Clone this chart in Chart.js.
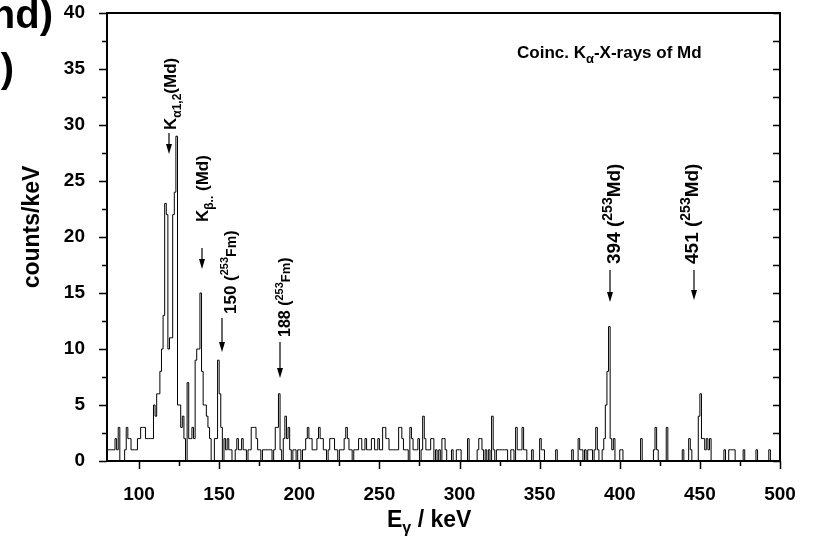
<!DOCTYPE html>
<html>
<head>
<meta charset="utf-8">
<script src="https://cdn.jsdelivr.net/npm/chart.js@4/dist/chart.umd.min.js"></script>
<style>
  html, body { margin: 0; padding: 0; background: #fff; }
  #wrap { width: 813px; height: 542px; position: relative; }
</style>
</head>
<body>
<div id="wrap"><canvas id="c" width="813" height="542"></canvas></div>
<script>
// ---------------- DATA ----------------
// Histogram of coincident gamma events, 1 keV bins, bin k covers [k, k+1) keV
const binStartKeV = 80;
const binWidthKeV = 1;
const counts080to129 = [
  2,1,1,1,1,1,2,1,3,0,
  0,0,1,3,2,2,1,1,1,1,
  2,2,3,3,3,2,2,2,2,2,
  5,4,6,6,8,10,13,23,22,10,
  11,11,22,24,29,5,5,3,4,2
];
const counts130to179 = [
  0,7,2,2,3,2,9,10,10,15,
  8,5,5,4,3,2,0,0,2,2,
  9,6,3,0,2,1,2,1,1,0,
  0,1,2,1,1,2,1,1,0,1,
  1,3,3,3,2,1,1,0,1,1
];
const counts180to279 = [
  1,1,1,1,0,1,3,3,6,1,
  0,2,4,2,3,1,0,1,1,0,
  1,1,0,1,1,2,3,2,2,1,
  1,1,2,3,2,2,1,1,0,1,
  2,2,2,1,1,0,1,1,1,2,
  3,2,1,1,0,1,1,1,2,2,
  1,1,2,1,1,1,2,2,1,1,
  2,1,1,3,3,2,2,1,1,1,
  1,1,1,3,3,2,1,1,1,0,
  3,2,1,1,1,2,0,1,4,2
];
const counts280to379 = [
  1,1,1,2,2,0,1,0,1,0,
  2,2,1,0,0,0,1,0,0,1,
  1,1,0,0,0,0,2,0,0,0,
  0,0,1,2,2,1,0,1,0,1,
  0,4,1,0,1,1,1,1,1,1,
  1,0,0,1,1,0,3,1,1,1,
  3,1,1,0,0,0,1,0,0,0,
  0,2,1,1,0,0,0,0,0,0,
  0,1,0,0,0,0,0,0,0,0,
  0,1,0,0,0,2,1,1,0,1
];
const counts380to499 = [
  0,1,1,1,0,1,3,1,0,0,
  1,2,5,8,12,2,1,2,0,0,
  0,1,1,0,0,0,0,0,0,0,
  0,0,0,0,2,0,0,0,0,0,
  0,0,1,3,1,0,0,0,0,0,
  3,0,0,0,0,0,0,0,0,0,
  1,0,0,0,2,1,0,0,0,0,
  4,6,2,2,1,2,1,2,0,0,
  0,0,0,0,0,0,1,0,0,1,
  1,1,1,0,0,0,0,0,1,0,
  0,0,0,0,0,0,1,0,0,0,
  0,0,0,0,1,0,0,0,0,0
];
const xTickLabels = [100, 150, 200, 250, 300, 350, 400, 450, 500];
const yTickLabels = [0, 5, 10, 15, 20, 25, 30, 35, 40];
const xRange = [80, 500];
const yRange = [0, 40];

// ---------------- BUILD ----------------
const counts = [].concat(counts080to129, counts130to179, counts180to279, counts280to379, counts380to499);
const points = counts.map((v, i) => ({ x: binStartKeV + i * binWidthKeV, y: v }));
points.push({ x: binStartKeV + counts.length * binWidthKeV, y: counts[counts.length - 1] });

const FONT = '"Liberation Sans", Arial, Helvetica, sans-serif';
Chart.defaults.font.family = FONT;
Chart.defaults.color = '#000';

function drawRich(ctx, x, y, runs, rotated, align) {
  ctx.save();
  ctx.translate(x, y);
  if (rotated) ctx.rotate(-Math.PI / 2);
  ctx.textBaseline = 'alphabetic';
  ctx.textAlign = 'left';
  let total = 0;
  for (const r of runs) { ctx.font = 'bold ' + r.size + 'px ' + FONT; total += ctx.measureText(r.t).width; }
  let cx = align === 'center' ? -total / 2 : 0;
  for (const r of runs) {
    ctx.font = 'bold ' + r.size + 'px ' + FONT;
    ctx.fillText(r.t, cx, r.dy || 0);
    cx += ctx.measureText(r.t).width;
  }
  ctx.restore();
}

function arrowDown(ctx, x, yTop, yTip) {
  ctx.save();
  ctx.strokeStyle = '#000';
  ctx.fillStyle = '#000';
  ctx.lineWidth = 1.2;
  ctx.beginPath();
  ctx.moveTo(x, yTop);
  ctx.lineTo(x, yTip - 6);
  ctx.stroke();
  ctx.beginPath();
  ctx.moveTo(x - 3, yTip - 10);
  ctx.lineTo(x + 3, yTip - 10);
  ctx.lineTo(x, yTip);
  ctx.closePath();
  ctx.fill();
  ctx.restore();
}

const decor = {
  id: 'decor',
  afterDraw(chart) {
    const ctx = chart.ctx;
    const a = chart.chartArea;
    const xs = chart.scales.x, ys = chart.scales.y;
    ctx.save();
    ctx.strokeStyle = '#000';
    ctx.fillStyle = '#000';
    // frame
    ctx.lineWidth = 2;
    ctx.strokeRect(a.left, a.top, a.right - a.left, a.bottom - a.top);
    // ticks
    ctx.lineWidth = 1.5;
    ctx.beginPath();
    for (let v = yRange[0]; v <= yRange[1] + 1e-9; v += 2.5) {
      const y = Math.round(ys.getPixelForValue(v)) + 0.5;
      const major = Math.abs(v % 5) < 1e-9;
      ctx.moveTo(a.left, y); ctx.lineTo(a.left - (major ? 8 : 5), y);
      ctx.moveTo(a.right, y); ctx.lineTo(a.right - 7, y);
    }
    for (let v = 100; v <= xRange[1] + 1e-9; v += 25) {
      const x = Math.round(xs.getPixelForValue(v)) + 0.5;
      const major = v % 50 === 0;
      ctx.moveTo(x, a.bottom); ctx.lineTo(x, a.bottom + (major ? 8 : 5));
    }
    ctx.stroke();

    // axis titles
    drawRich(ctx, 31 + 8, 227, [{ t: 'counts/keV', size: 23 }], true, 'center');
    drawRich(ctx, 387, 527, [
      { t: 'E', size: 23 }, { t: '\u03b3', size: 16, dy: 6 }, { t: ' / keV', size: 23 }
    ], false, 'left');

    // note
    drawRich(ctx, 517, 58, [
      { t: 'Coinc. K', size: 17 }, { t: '\u03b1', size: 13, dy: 5 }, { t: '-X-rays of Md', size: 17 }
    ], false, 'left');

    // peak labels (rotated) and arrows
    drawRich(ctx, 176, 130, [
      { t: 'K', size: 17 }, { t: '\u03b11,2', size: 12, dy: 5 }, { t: '(Md)', size: 17 }
    ], true);
    arrowDown(ctx, 169, 133, 154);

    drawRich(ctx, 208, 222, [
      { t: 'K', size: 17 }, { t: '\u03b2..', size: 12, dy: 5 }, { t: ' (Md)', size: 17 }
    ], true);
    arrowDown(ctx, 202, 248, 269);

    drawRich(ctx, 236, 314, [
      { t: '150 (', size: 17 }, { t: '253', size: 11, dy: -8 }, { t: 'Fm', size: 14 }, { t: ')', size: 17 }
    ], true);
    arrowDown(ctx, 222, 318, 352);

    drawRich(ctx, 290, 337, [
      { t: '188 (', size: 16 }, { t: '253', size: 11, dy: -7 }, { t: 'Fm', size: 13 }, { t: ')', size: 16 }
    ], true);
    arrowDown(ctx, 280, 342, 378);

    drawRich(ctx, 620, 264, [
      { t: '394 (', size: 19 }, { t: '253', size: 14, dy: -8 }, { t: 'Md)', size: 19 }
    ], true);
    arrowDown(ctx, 610, 270, 302);

    drawRich(ctx, 698, 264, [
      { t: '451 (', size: 19 }, { t: '253', size: 14, dy: -8 }, { t: 'Md)', size: 19 }
    ], true);
    arrowDown(ctx, 694, 270, 300);

    // fragment of neighbouring panel text (cropped in the original)
    ctx.font = 'bold 40px ' + FONT;
    ctx.textAlign = 'right';
    ctx.textBaseline = 'alphabetic';
    ctx.fillText('nd)', 53, 28);
    ctx.fillText(')', 14, 82);
    ctx.restore();
  }
};

new Chart(document.getElementById('c'), {
  type: 'line',
  data: {
    datasets: [{
      data: points,
      stepped: 'after',
      borderColor: '#000',
      borderWidth: 1,
      pointRadius: 0,
      fill: false,
      tension: 0
    }]
  },
  options: {
    responsive: false,
    animation: false,
    devicePixelRatio: 1,
    layout: { padding: { top: 13, right: 33, left: 0, bottom: 0 } },
    plugins: { legend: { display: false }, tooltip: { enabled: false }, title: { display: false } },
    scales: {
      x: {
        type: 'linear',
        min: xRange[0], max: xRange[1],
        afterBuildTicks: s => { s.ticks = xTickLabels.map(v => ({ value: v })); },
        afterFit: s => { s.height = 81; s.paddingLeft = 0; s.paddingRight = 0; },
        grid: { display: false },
        border: { display: false },
        ticks: { font: { size: 19, weight: 'bold' }, color: '#000', padding: 14, maxRotation: 0, autoSkip: false }
      },
      y: {
        min: yRange[0], max: yRange[1],
        afterBuildTicks: s => { s.ticks = yTickLabels.map(v => ({ value: v })); },
        afterFit: s => { s.width = 107; s.paddingTop = 0; s.paddingBottom = 0; },
        grid: { display: false },
        border: { display: false },
        ticks: { font: { size: 19, weight: 'bold' }, color: '#000', padding: 14, autoSkip: false }
      }
    }
  },
  plugins: [decor]
});
</script>
</body>
</html>
